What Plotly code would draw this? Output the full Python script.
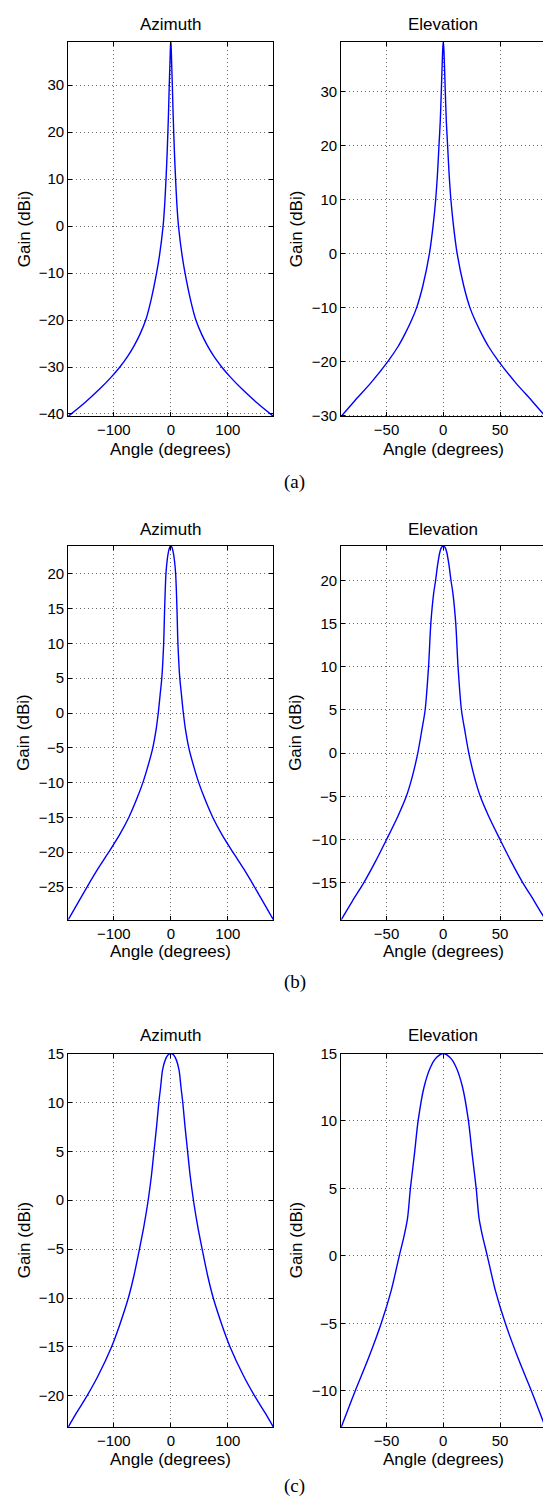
import plotly.graph_objects as go

W, H = 543, 1512

# ---------------- data ----------------
az_a_angle = [-180, -150, -125, -105, -90, -76, -64, -54, -44, -35, -25, -20, -13.5, -10.5, -8.4, -6.6, -5.1, -3.8, -2.7, -1.4, -0.5, 0,
              0.5, 1.4, 2.7, 3.8, 5.1, 6.6, 8.4, 10.5, 13.5, 20, 25, 35, 44, 54, 64, 76, 90, 105, 125, 150, 180]
az_a_gain = [-40.5, -37.5, -34.7, -32.2, -30.1, -27.8, -25.4, -23.0, -20.0, -15.9, -10.0, -6.4, 0.0, 5.0, 10.0, 15.0, 20.0, 25.0, 30.0, 35.0, 38.5, 39.2,
             38.5, 35.0, 30.0, 25.0, 20.0, 15.0, 10.0, 5.0, 0.0, -6.4, -10.0, -15.9, -20.0, -23.0, -25.4, -27.8, -30.1, -32.2, -34.7, -37.5, -40.5]

el_a_angle = [-90, -78, -63.5, -48.8, -40, -34, -28, -23.4, -18, -12.2, -9, -6.7, -5, -3.8, -2.7, -1.75, -1, -0.4, 0,
              0.4, 1, 1.75, 2.7, 3.8, 5, 6.7, 9, 12.2, 18, 23.4, 28, 34, 40, 48.8, 63.5, 78, 90]
el_a_gain = [-30.2, -27.3, -23.9, -20.0, -17.3, -15.0, -12.4, -10.0, -6.0, 0.0, 5.1, 10.0, 15.2, 20.0, 24.4, 30.0, 35.0, 38.3, 39.2,
             38.3, 35.0, 30.0, 24.4, 20.0, 15.2, 10.0, 5.1, 0.0, -6.0, -10.0, -12.4, -15.0, -17.3, -20.0, -23.9, -27.3, -30.2]

az_b_angle = [-180, -147, -128, -109, -90, -73.7, -60, -49, -40, -31.6, -26, -22, -18.5, -15.8, -12.5, -10.8, -8.5, -6, -4, -2, 0,
              2, 4, 6, 8.5, 10.8, 12.5, 15.8, 18.5, 22, 26, 31.6, 40, 49, 60, 73.7, 90, 109, 128, 147, 180]
az_b_gain = [-29.7, -25.0, -22.4, -20.0, -17.5, -15.0, -12.4, -10.0, -7.6, -5.0, -2.5, 0.0, 2.8, 5.0, 10.0, 15.0, 20.0, 22.2, 23.2, 23.8, 24.0,
             23.8, 23.2, 22.2, 20.0, 15.0, 10.0, 5.0, 2.8, 0.0, -2.5, -5.0, -7.6, -10.0, -12.4, -15.0, -17.5, -20.0, -22.4, -25.0, -29.7]

el_b_angle = [-90, -80, -70, -60, -50, -40, -32.6, -27.5, -22.5, -19, -16, -13, -11, -8.5, -6.8, -5, -3, -1.5, 0,
              1.5, 3, 5, 6.8, 8.5, 11, 13, 16, 19, 22.5, 27.5, 32.6, 40, 50, 60, 70, 80, 90]
el_b_gain = [-19.3, -17.1, -15.0, -12.6, -10.0, -7.3, -5.0, -2.8, 0.0, 2.6, 5.0, 10.0, 15.0, 18.5, 20.0, 21.8, 23.3, 23.85, 24.0,
             23.85, 23.3, 21.8, 20.0, 18.5, 15.0, 10.0, 5.0, 2.6, 0.0, -2.8, -5.0, -7.3, -10.0, -12.6, -15.0, -17.1, -19.3]

az_c_angle = [-180, -165, -147, -128, -104, -90, -74.5, -65, -55, -47, -39.7, -34, -29.5, -25, -21, -18, -14.5, -10, -5, 0,
              5, 10, 14.5, 18, 21, 25, 29.5, 34, 39.7, 47, 55, 65, 74.5, 90, 104, 128, 147, 165, 180]
az_c_gain = [-23.2, -21.7, -20.0, -18.0, -15.0, -12.8, -10.0, -7.8, -5.0, -2.6, 0.0, 2.5, 5.0, 7.5, 10.0, 11.5, 13.3, 14.3, 14.85, 15.0,
             14.85, 14.3, 13.3, 11.5, 10.0, 7.5, 5.0, 2.5, 0.0, -2.6, -5.0, -7.8, -10.0, -12.8, -15.0, -18.0, -20.0, -21.7, -23.2]

el_c_angle = [-90, -84, -77.6, -66, -54.7, -46, -38.8, -34.5, -31.5, -29, -25.5, -22.2, -17, -11.2, -6, 0,
              6, 11.2, 17, 22.2, 25.5, 29, 31.5, 34.5, 38.8, 46, 54.7, 66, 77.6, 84, 90]
el_c_gain = [-12.7, -11.4, -10.0, -7.6, -5.0, -2.6, 0.0, 1.5, 2.8, 5.0, 7.5, 10.0, 12.5, 14.0, 14.7, 15.0,
             14.7, 14.0, 12.5, 10.0, 7.5, 5.0, 2.8, 1.5, 0.0, -2.6, -5.0, -7.6, -10.0, -11.4, -12.7]

az_ticks = [-100, 0, 100]
el_ticks = [-50, 0, 50]
yticks_a_az = [-40, -30, -20, -10, 0, 10, 20, 30]
yticks_a_el = [-30, -20, -10, 0, 10, 20, 30]
yticks_b_az = [-25, -20, -15, -10, -5, 0, 5, 10, 15, 20]
yticks_b_el = [-15, -10, -5, 0, 5, 10, 15, 20]
yticks_c_az = [-20, -15, -10, -5, 0, 5, 10, 15]
yticks_c_el = [-10, -5, 0, 5, 10, 15]

titles = ["Azimuth", "Elevation"]
xlabel = "Angle (degrees)"
ylabel = "Gain (dBi)"
captions = ["(a)", "(b)", "(c)"]

# ---------------- layout geometry (pixels) ----------------
col_px = [(68.2, 273.4), (341.2, 543.0)]
row_px = [(33.3, 411.7), (542.7, 920.5), (1055.7, 1433.3)]
title_y = [16, 526, 1037]
xlab_y = [445, 953, 1466]
cap_y = [478, 983, 1493]
ylab_x = [24, 296]

panels = [
    (0, 0, az_a_angle, az_a_gain, [-180, 180], [-40.5, 39.2], az_ticks, yticks_a_az),
    (0, 1, el_a_angle, el_a_gain, [-90, 87.9], [-30.2, 39.2], el_ticks, yticks_a_el),
    (1, 0, az_b_angle, az_b_gain, [-180, 180], [-29.7, 24.0], az_ticks, yticks_b_az),
    (1, 1, el_b_angle, el_b_gain, [-90, 87.9], [-19.3, 24.0], el_ticks, yticks_b_el),
    (2, 0, az_c_angle, az_c_gain, [-180, 180], [-23.2, 15.0], az_ticks, yticks_c_az),
    (2, 1, el_c_angle, el_c_gain, [-90, 87.9], [-12.7, 15.0], el_ticks, yticks_c_el),
]

FONT = "Liberation Sans, Arial, Helvetica, sans-serif"
SERIF = "Liberation Serif, Times New Roman, serif"

fig = go.Figure()
layout = {}
annotations = []

for i, (r, c, xs, ys, xr, yr, xt, yt) in enumerate(panels):
    n = i + 1
    xa = "x" if n == 1 else f"x{n}"
    ya = "y" if n == 1 else f"y{n}"
    fig.add_trace(go.Scatter(x=xs, y=ys, mode="lines", xaxis=xa, yaxis=ya,
                             line=dict(color="#0000FF", width=1.4, shape="spline", smoothing=0.8),
                             showlegend=False, hoverinfo="skip"))
    x0, x1 = col_px[c]
    top, bot = row_px[r]
    common = dict(showline=True, linecolor="black", linewidth=1,
                  ticks="inside", ticklen=4, tickwidth=1, tickcolor="black",
                  showgrid=True, gridcolor="#666666", gridwidth=1, griddash="1px,3px",
                  zeroline=False, tickfont=dict(family=FONT, size=15, color="black"),
                  fixedrange=True)
    layout["xaxis" if n == 1 else f"xaxis{n}"] = dict(
        common, domain=[x0 / W, min(x1 / W, 1.0)], range=xr, tickvals=xt,
        anchor=ya, mirror="ticks")
    layout["yaxis" if n == 1 else f"yaxis{n}"] = dict(
        common, domain=[1 - bot / H, 1 - top / H], range=yr, tickvals=yt,
        anchor=xa, mirror="ticks" if c == 0 else False)

    cx = (x0 + (x1 if c == 0 else 545.5)) / 2
    annotations.append(dict(text=titles[c], x=cx / W, y=1 - title_y[r] / H, xref="paper", yref="paper",
                            showarrow=False, xanchor="center", yanchor="middle",
                            font=dict(family=FONT, size=17, color="black")))
    annotations.append(dict(text=xlabel, x=cx / W, y=1 - xlab_y[r] / H, xref="paper", yref="paper",
                            showarrow=False, xanchor="center", yanchor="middle",
                            font=dict(family=FONT, size=17, color="black")))
    annotations.append(dict(text=ylabel, x=ylab_x[c] / W, y=1 - (top + bot) / 2 / H, xref="paper", yref="paper",
                            showarrow=False, xanchor="center", yanchor="middle", textangle=-90,
                            font=dict(family=FONT, size=17, color="black")))

for r in range(3):
    annotations.append(dict(text=captions[r], x=295 / W, y=1 - cap_y[r] / H, xref="paper", yref="paper",
                            showarrow=False, xanchor="center", yanchor="middle",
                            font=dict(family=SERIF, size=19, color="black")))

fig.update_layout(**layout)
fig.update_layout(width=W, height=H, margin=dict(l=0, r=0, t=0, b=0),
                  paper_bgcolor="white", plot_bgcolor="white",
                  annotations=annotations, showlegend=False)

fig.write_html("out.html", config={"displayModeBar": False},
               post_script="document.body.style.margin='0';document.body.style.padding='0';"
                           "document.body.style.overflow='hidden';"
                           "document.documentElement.style.overflow='hidden';")
